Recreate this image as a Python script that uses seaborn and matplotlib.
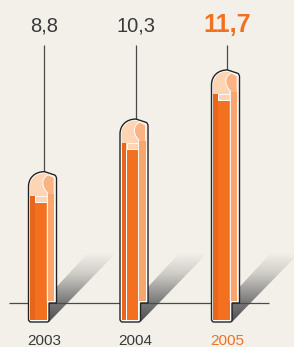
import matplotlib
matplotlib.use("Agg")
import numpy as np
import pandas as pd
import matplotlib.pyplot as plt
import seaborn as sns
from matplotlib.path import Path
from matplotlib.patches import PathPatch, Polygon, Rectangle
from matplotlib.transforms import Affine2D
from matplotlib.colors import LinearSegmentedColormap

# ---------------- data ----------------
years = ["2003", "2004", "2005"]
values = [8.8, 10.3, 11.7]
value_labels = ["8,8", "10,3", "11,7"]
highlight_year = "2005"

# ---------------- style / layout ----------------
BG = "#f3f0ea"
ORANGE = "#f37021"
ORANGE_D = "#e8661c"
LIGHT_OR = "#f9a66e"
CRESC = "#fbb383"
PALE = "#fdd5b5"
INK = "#222222"
LINE = "#4a4a4a"
TEXT = "#3a3a3a"

Y_MIN, Y_MAX = 3.802, 13.694
X_MIN = -0.4645
X_MAX = X_MIN + 294 / 91.5
FOOT = 4.515        # axis value where the bar bodies end
BASE = 5.057        # axis value of the ground line
LEADER_TOP = 12.41  # axis value where leader lines start
BASE_X = (-0.366, 2.478)

sns.set_theme(style="white")
plt.rcParams["font.family"] = ["Liberation Sans", "DejaVu Sans"]

fig = plt.figure(figsize=(2.94, 3.47), dpi=100)
fig.patch.set_facecolor(BG)
ax = fig.add_axes([0, 0, 1, 1])
ax.set_facecolor(BG)

df = pd.DataFrame({"year": years, "value": values})
sns.barplot(data=df, x="year", y="value", color=ORANGE, saturation=1,
            width=0.2, ax=ax, zorder=6, edgecolor="none")
ax.set_xlim(X_MIN, X_MAX)
ax.set_ylim(Y_MIN, Y_MAX)
ax.axis("off")

to_disp = ax.transData.transform
to_data = ax.transData.inverted().transform

# ground line
ax.hlines(BASE, BASE_X[0], BASE_X[1], color=LINE, lw=0.9, zorder=3)

shade = LinearSegmentedColormap.from_list(
    "shade", [(0, "#505050"), (0.28, "#777777"), (0.7, "#cfccc7"), (1, BG)])

M, L_, C3, C4, Z = Path.MOVETO, Path.LINETO, Path.CURVE3, Path.CURVE4, Path.CLOSEPOLY

bars = [p for p in ax.patches]
for i, (p, yr, val, lab) in enumerate(zip(bars, years, values, value_labels)):
    xc = p.get_x() + p.get_width() / 2
    cx, ty = to_disp((xc, val))
    fy = to_disp((xc, FOOT))[1]
    by = to_disp((xc, BASE))[1]
    left = cx - 14.5
    Hf = ty - fy
    Bv = ty - by
    tr = Affine2D().scale(1, -1).translate(left, ty)

    def local(u, v):
        return (left + u, ty - v)

    # shadow (gradient clipped to parallelogram)
    poly_local = [(21, Hf), (87, Bv - 49), (59, Bv - 49), (28.5, Bv - 16),
                  (28.5, Bv), (21, Bv)]
    poly_data = np.array([to_data(local(u, v)) for u, v in poly_local])
    clip = Polygon(poly_data, closed=True, transform=ax.transData,
                   facecolor="none", edgecolor="none")
    ax.add_patch(clip)
    grad = np.linspace(0, 1, 256).reshape(-1, 1)
    x0, x1 = poly_data[:, 0].min(), poly_data[:, 0].max()
    y0, y1 = poly_data[:, 1].min(), poly_data[:, 1].max()
    im = ax.imshow(grad, extent=[x0, x1, y0, y1], origin="lower", aspect="auto",
                   cmap=shade, zorder=2, interpolation="bilinear")
    im.set_clip_path(clip)

    # outline
    outline = Path(
        [(0.5, Hf - 3), (0.5, 15), (0.5, 6), (7, 0), (16.5, 0),
         (26.5, 3.3), (28.5, 4.1), (28.5, 7), (28.5, Bv), (21, Bv),
         (21, Hf - 2), (21, Hf), (19, Hf), (3, Hf), (0.5, Hf), (0.5, Hf - 3),
         (0.5, Hf - 3)],
        [M, L_, C4, C4, C4, L_, C3, C3, L_, L_, L_, C3, C3, L_, C3, C3, Z])
    ax.add_patch(PathPatch(outline, transform=tr, facecolor="white",
                           edgecolor=INK, lw=1.0, zorder=4))

    # pale cap
    cap = Path(
        [(2.0, 15), (2.0, 7), (8, 1.6), (16.5, 1.6), (26, 4.9), (27.0, 5.6),
         (27.0, 8), (27.0, 31), (2.0, 31), (2.0, 15)],
        [M, C4, C4, C4, L_, C3, C3, L_, L_, Z])
    ax.add_patch(PathPatch(cap, transform=tr, facecolor=PALE,
                           edgecolor="none", zorder=5))

    # crescent / light right strip
    cres = Path(
        [(20.5, 3.0), (14, 5.5), (12.5, 14), (19.3, 21), (19.3, Bv - 1.5),
         (26.2, Bv - 1.5), (26.2, 6.0), (20.5, 3.0)],
        [M, C4, C4, C4, L_, L_, L_, Z])
    ax.add_patch(PathPatch(cres, transform=tr, facecolor=CRESC,
                           edgecolor="white", lw=0.7, zorder=7))
    ax.add_patch(Rectangle((19.6, 22), 6.4, Bv - 23.6, transform=tr,
                           facecolor=LIGHT_OR, edgecolor="none", zorder=7))

    # left darker strip
    ax.add_patch(Rectangle((2.2, 24), 4.6, Hf - 26, transform=tr,
                           facecolor=ORANGE_D, edgecolor="none", zorder=6))
    # top face of the body
    ax.add_patch(Rectangle((7.4, 24), 11.3, 6.2, transform=tr,
                           facecolor=PALE, edgecolor="white", lw=0.6, zorder=6))

    # reshape seaborn bar into the main body
    (bx0, by0) = to_data(local(7.4, Hf - 2))
    (bx1, by1) = to_data(local(18.7, 31))
    p.set_x(bx0)
    p.set_width(bx1 - bx0)
    p.set_y(by0)
    p.set_height(by1 - by0)

    # leader line and labels
    lx = to_data(local(16, 0))[0]
    ax.vlines(lx, val, LEADER_TOP, color=LINE, lw=0.9, zorder=3)
    hi = yr == highlight_year
    ax.text(lx, 0.908, lab, transform=ax.get_xaxis_transform(),
            ha="center", va="baseline",
            fontsize=18 if hi else 14.5,
            fontweight="bold" if hi else "normal",
            color=ORANGE if hi else TEXT)
    ax.text(lx, 0.006, yr, transform=ax.get_xaxis_transform(),
            ha="center", va="baseline", fontsize=11,
            color=ORANGE if hi else TEXT)

ax.set_xlim(X_MIN, X_MAX)
ax.set_ylim(Y_MIN, Y_MAX)
fig.savefig("out.png", dpi=100, facecolor=BG)
